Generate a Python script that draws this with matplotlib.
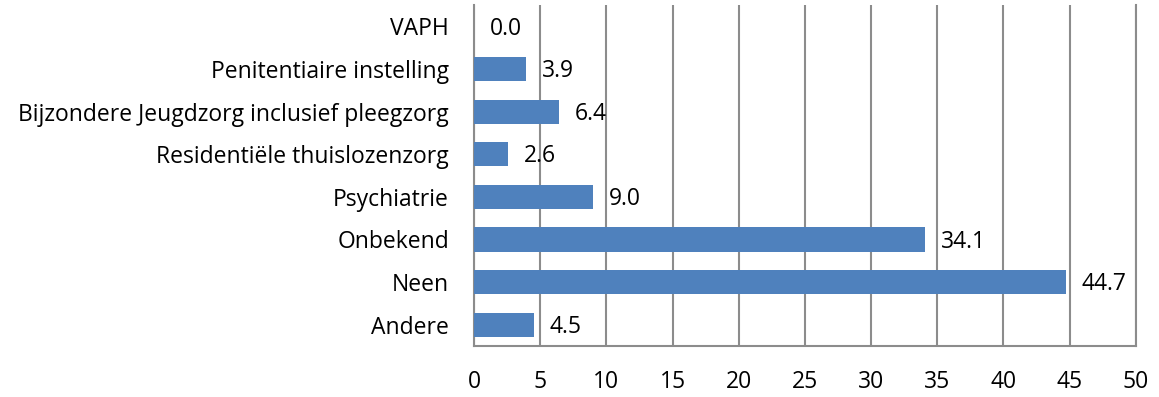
import numpy as np
import matplotlib
matplotlib.use("Agg")
from matplotlib import pyplot as plt

plt.rcParams['font.family'] = ['Open Sans', 'DejaVu Sans']

categories = ['VAPH', 'Penitentiaire instelling', 'Bijzondere Jeugdzorg inclusief pleegzorg',
              'Residentiële thuislozenzorg', 'Psychiatrie', 'Onbekend', 'Neen', 'Andere']
values = [0.0, 3.9, 6.4, 2.6, 9.0, 34.1, 44.7, 4.5]
xticks = [0, 5, 10, 15, 20, 25, 30, 35, 40, 45, 50]

fig = plt.figure(figsize=(11.59, 3.97), dpi=100)
ax = fig.add_axes([0.409, 0.1285, 0.571, 0.8585])

y = np.arange(len(categories))
ax.barh(y, values, height=0.57, color='#4F81BD', edgecolor='none', zorder=3)
for yi, v in zip(y, values):
    # value labels sit a little right of each bar end
    ax.text(v + 1.2, yi + 0.05, '%.1f' % v, va='center', ha='left', fontsize=16.5, zorder=4)

ax.set_ylim(len(categories) - 0.5, -0.5)
ax.set_xlim(0, 50)
ax.set_xticks(xticks)
ax.set_yticks(y)
ax.set_yticklabels(categories, fontsize=16.5)
ax.tick_params(axis='x', labelsize=16.5, length=0, pad=17)
ax.tick_params(axis='y', length=0, pad=18)
ax.xaxis.grid(True, color='#8C8C8C', linewidth=1.5, zorder=0)
ax.spines['top'].set_visible(False)
for s in ['left', 'bottom', 'right']:
    ax.spines[s].set_color('#8C8C8C')
    ax.spines[s].set_linewidth(1.5)

fig.savefig('out.png', dpi=100)
